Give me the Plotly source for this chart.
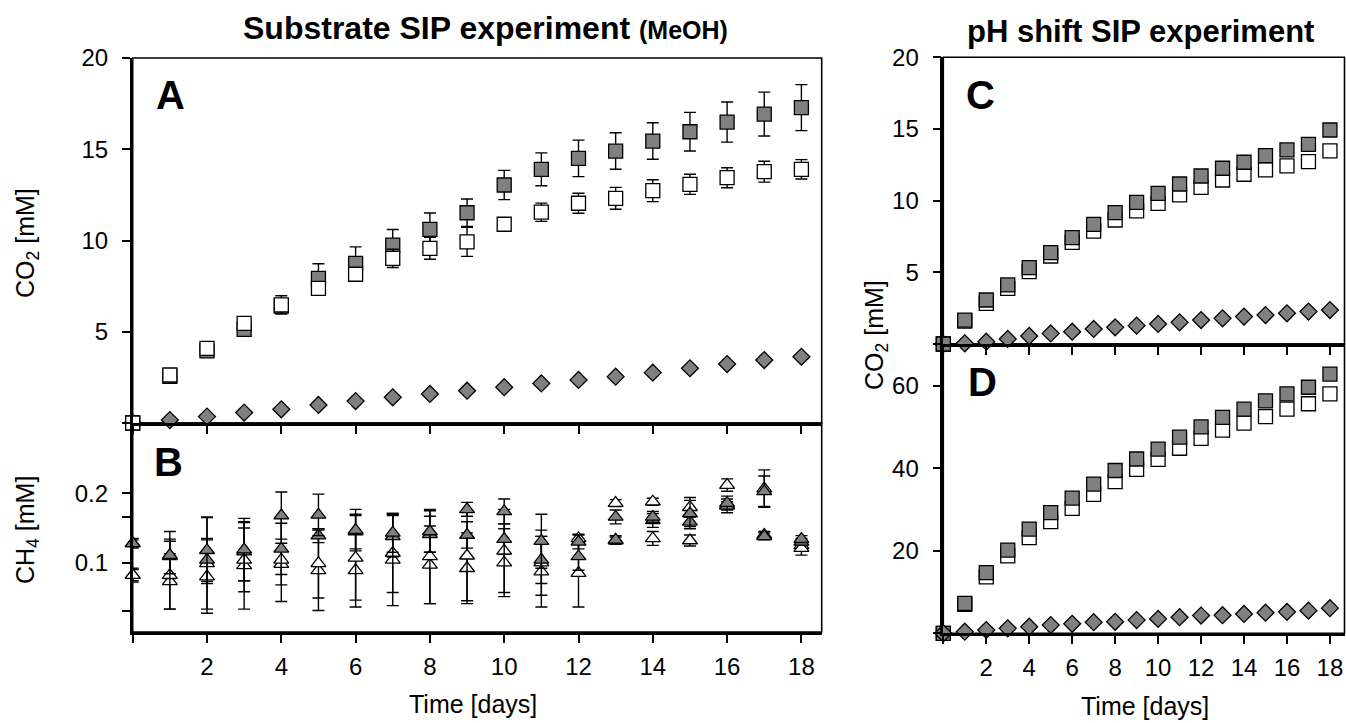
import plotly.graph_objects as go

W, H = 1346, 723
days = list(range(19))

# Panel A: CO2 [mM], substrate SIP (MeOH)
a_gray = [0, 2.55, 3.95, 5.13, 6.4, 7.93, 8.75, 9.75, 10.61, 11.52, 13.04, 13.9, 14.5, 14.9, 15.45, 15.96, 16.49, 16.93, 17.28]
a_gray_err = [0, 0.1, 0.15, 0.2, 0.35, 0.8, 0.9, 0.85, 0.9, 0.75, 0.8, 0.9, 1.0, 1.0, 1.0, 1.06, 1.1, 1.2, 1.26]
a_white = [0, 2.63, 4.09, 5.46, 6.47, 7.38, 8.15, 9.02, 9.57, 9.93, 10.89, 11.55, 12.04, 12.31, 12.73, 13.08, 13.44, 13.77, 13.9]
a_white_err = [0, 0.1, 0.1, 0.1, 0.5, 0.3, 0.3, 0.5, 0.6, 0.8, 0.3, 0.5, 0.55, 0.6, 0.6, 0.55, 0.55, 0.57, 0.53]
a_diamond = [0, 0.16, 0.35, 0.57, 0.75, 0.99, 1.2, 1.41, 1.59, 1.77, 1.96, 2.17, 2.36, 2.54, 2.76, 3.0, 3.23, 3.45, 3.63]

# Panel B: CH4 [mM]
b_gray1 = [0.128, 0.111, 0.118, 0.119, 0.168, 0.169, 0.147, 0.143, 0.145, 0.177, 0.174, 0.131, 0.130, 0.166, 0.166, 0.171, 0.186, 0.203, 0.134]
b_gray1_err = [0.007, 0.034, 0.048, 0.045, 0.034, 0.030, 0.030, 0.028, 0.030, 0.010, 0.018, 0.039, 0.010, 0.010, 0.008, 0.019, 0.010, 0.022, 0.005]
b_gray2 = [0.128, 0.109, 0.104, 0.116, 0.120, 0.139, 0.145, 0.138, 0.141, 0.140, 0.134, 0.104, 0.109, 0.133, 0.161, 0.159, 0.182, 0.138, 0.130]
b_gray2_err = [0.005, 0.025, 0.031, 0.042, 0.037, 0.010, 0.025, 0.030, 0.026, 0.019, 0.022, 0.034, 0.020, 0.006, 0.010, 0.010, 0.010, 0.005, 0.005]
b_white1 = [0.082, 0.082, 0.099, 0.104, 0.104, 0.099, 0.107, 0.114, 0.109, 0.110, 0.117, 0.087, 0.135, 0.186, 0.188, 0.180, 0.212, 0.207, 0.121]
b_white1_err = [0.010, 0.049, 0.066, 0.046, 0.060, 0.050, 0.061, 0.057, 0.068, 0.065, 0.060, 0.051, 0.006, 0.005, 0.005, 0.014, 0.009, 0.027, 0.010]
b_white2 = [0.082, 0.073, 0.080, 0.096, 0.098, 0.089, 0.089, 0.104, 0.097, 0.092, 0.100, 0.100, 0.085, 0.132, 0.135, 0.132, 0.183, 0.140, 0.125]
b_white2_err = [0.008, 0.040, 0.053, 0.063, 0.030, 0.058, 0.053, 0.066, 0.056, 0.051, 0.049, 0.047, 0.049, 0.005, 0.010, 0.008, 0.005, 0.005, 0.005]

# Panel C: CO2 [mM], pH shift
c_gray = [0, 1.67, 3.07, 4.12, 5.33, 6.37, 7.42, 8.35, 9.16, 9.88, 10.51, 11.16, 11.72, 12.26, 12.68, 13.14, 13.54, 13.93, 14.93]
c_white = [0, 1.6, 2.84, 3.88, 5.05, 6.14, 7.09, 7.88, 8.65, 9.28, 9.81, 10.4, 10.93, 11.44, 11.84, 12.14, 12.42, 12.72, 13.47]
c_diamond = [0, 0.05, 0.16, 0.35, 0.56, 0.74, 0.86, 1.05, 1.16, 1.28, 1.4, 1.51, 1.67, 1.79, 1.91, 2.02, 2.14, 2.26, 2.37]

# Panel D: CO2 [mM], pH shift
d_gray = [0, 7.28, 14.7, 20.2, 25.3, 29.3, 32.8, 36.2, 39.5, 42.3, 44.7, 47.6, 50.1, 52.4, 54.4, 56.4, 58.1, 59.7, 62.9]
d_white = [0, 7.0, 13.7, 18.8, 23.2, 27.1, 30.3, 33.7, 36.8, 39.8, 42.2, 44.9, 47.3, 49.3, 51.0, 52.6, 54.4, 55.7, 58.1]
d_diamond = [0, 0.4, 0.8, 1.2, 1.6, 2.0, 2.3, 2.7, 2.8, 3.2, 3.5, 3.9, 4.3, 4.4, 4.7, 5.0, 5.2, 5.5, 6.1]

x_ticks = list(range(0, 19, 2))
x_ticktext = [''] + [str(v) for v in range(2, 19, 2)]

GRAY = '#808080'
FONT = 'Arial, Liberation Sans, sans-serif'


def px(x):
    return x / W


def py(y):
    return 1 - y / H


def trace(x, y, sym, fill, xa, ya, err=None, size=13):
    t = go.Scatter(
        x=x, y=y, mode='markers', xaxis=xa, yaxis=ya, cliponaxis=False,
        marker=dict(symbol=sym, size=size, color=fill, line=dict(color='black', width=1.3)),
        showlegend=False, hoverinfo='skip')
    if err is not None:
        t.error_y = dict(type='data', array=err, visible=True, color='black', thickness=1.4, width=6)
    return t


fig = go.Figure()
# A
fig.add_trace(trace(days, a_diamond, 'diamond', GRAY, 'x', 'y', size=13))
fig.add_trace(trace(days, a_gray, 'square', GRAY, 'x', 'y', a_gray_err, size=14))
fig.add_trace(trace(days, a_white, 'square', 'white', 'x', 'y', a_white_err, size=14))
# B
fig.add_trace(trace(days, b_white2, 'triangle-up', 'white', 'x2', 'y2', b_white2_err, size=13))
fig.add_trace(trace(days, b_white1, 'triangle-up', 'white', 'x2', 'y2', b_white1_err, size=13))
fig.add_trace(trace(days, b_gray2, 'triangle-up', GRAY, 'x2', 'y2', b_gray2_err, size=13))
fig.add_trace(trace(days, b_gray1, 'triangle-up', GRAY, 'x2', 'y2', b_gray1_err, size=13))
# C
fig.add_trace(trace(days, c_diamond, 'diamond', GRAY, 'x3', 'y3', size=13))
fig.add_trace(trace(days, c_white, 'square', 'white', 'x3', 'y3', size=14))
fig.add_trace(trace(days, c_gray, 'square', GRAY, 'x3', 'y3', size=14))
# D
fig.add_trace(trace(days, d_white, 'square', 'white', 'x4', 'y4', size=14))
fig.add_trace(trace(days, d_gray, 'square', GRAY, 'x4', 'y4', size=14))
fig.add_trace(trace(days, d_diamond, 'diamond', GRAY, 'x4', 'y4', size=13))

# geometry (pixels)
LA, RA = 132.7, 821.7
TA, MAB, BB = 58, 423, 632
LC, RC = 943.3, 1344.5
TC, MCD, BD = 57.3, 344, 633.3

axis_common = dict(showline=True, linecolor='black', linewidth=2.5, ticks='outside',
                   ticklen=8, tickwidth=1.6, tickcolor='black', showgrid=False, zeroline=False,
                   tickfont=dict(family=FONT, size=24, color='black'), mirror=False,
                   automargin=False)

xr_a = [0, (RA - LA) / 37.15]
xr_c = [0, (RC - LC) / 21.48]

fig.update_layout(
    width=W, height=H, margin=dict(l=0, r=0, t=0, b=0, autoexpand=False),
    paper_bgcolor='white', plot_bgcolor='white',
    xaxis=dict(axis_common, domain=[px(LA), px(RA)], range=xr_a, anchor='y',
               tickvals=x_ticks, showticklabels=False),
    yaxis=dict(axis_common, domain=[py(MAB), py(TA)], range=[0, 20], anchor='x',
               tickvals=[0, 5, 10, 15, 20], ticktext=['', '5', '10', '15', '20'], ticklabelstandoff=9),
    xaxis2=dict(axis_common, domain=[px(LA), px(RA)], range=xr_a, anchor='y2',
                tickvals=x_ticks, ticktext=x_ticktext, ticklabelstandoff=3),
    yaxis2=dict(axis_common, domain=[py(BB), py(MAB)], range=[0, (BB - MAB) / 693.0], anchor='x2',
                tickvals=[0.0303, 0.1, 0.1664, 0.2], ticktext=['', '0.1', '', '0.2'], ticklabelstandoff=9),
    xaxis3=dict(axis_common, domain=[px(LC), px(RC)], range=xr_c, anchor='y3',
                tickvals=x_ticks, showticklabels=False),
    yaxis3=dict(axis_common, domain=[py(MCD), py(TC)], range=[0, 20], anchor='x3',
                tickvals=[0, 5, 10, 15, 20], ticktext=['', '5', '10', '15', '20'], ticklabelstandoff=9),
    xaxis4=dict(axis_common, domain=[px(LC), px(RC)], range=xr_c, anchor='y4',
                tickvals=x_ticks, ticktext=x_ticktext, ticklabelstandoff=3),
    yaxis4=dict(axis_common, domain=[py(BD), py(MCD)], range=[0, 70.2], anchor='x4',
                tickvals=[0, 20, 40, 60], ticktext=['', '20', '40', '60'], ticklabelstandoff=9),
)

# boxes
for (x0, y0, x1, y1) in [(LA, TA, RA, MAB), (LA, MAB, RA, BB), (LC, TC, RC, MCD), (LC, MCD, RC, BD)]:
    fig.add_shape(type='rect', xref='paper', yref='paper', x0=px(x0), x1=px(x1), y0=py(y1), y1=py(y0),
                  line=dict(color='black', width=1.6), layer='below')

ann = []


def add_text(text, x, y, size, bold=False, angle=0):
    ann.append(dict(text=('<b>%s</b>' % text) if bold else text, x=px(x), y=py(y), xref='paper', yref='paper',
                    showarrow=False, xanchor='center', yanchor='middle', textangle=angle,
                    font=dict(family=FONT, size=size, color='black')))


add_text('Substrate SIP experiment <span style="font-size:25px">(MeOH)</span>', 485, 28, 32, bold=True)
add_text('pH shift SIP experiment', 1140, 32, 31, bold=True)
add_text('A', 170, 95, 40, bold=True)
add_text('B', 168, 462, 40, bold=True)
add_text('C', 980, 95, 40, bold=True)
add_text('D', 982, 382, 40, bold=True)
add_text('CO<sub>2</sub> [mM]', 27, 243, 25, angle=-90)
add_text('CH<sub>4</sub> [mM]', 27, 530, 25, angle=-90)
add_text('CO<sub>2</sub> [mM]', 876, 335, 25, angle=-90)
add_text('Time [days]', 473, 704, 25)
add_text('Time [days]', 1145, 706, 25)
fig.update_layout(annotations=ann)

fig.write_html('out.html')
